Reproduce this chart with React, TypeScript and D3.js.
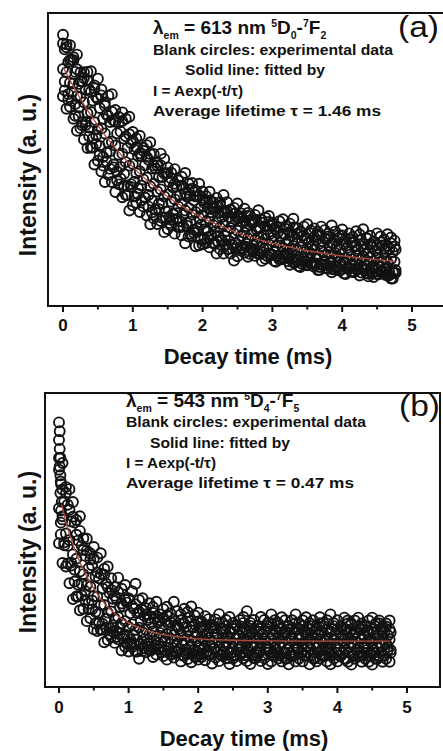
import React from 'react';
import * as d3 from 'd3';

// ---------- data ----------
const TIME = [0.00,0.05,0.10,0.15,0.20,0.25,0.30,0.35,0.40,0.45,0.50,0.55,0.60,0.65,0.70,0.75,0.80,0.85,0.90,0.95,1.00,1.05,1.10,1.15,1.20,1.25,1.30,1.35,1.40,1.45,1.50,1.55,1.60,1.65,1.70,1.75,1.80,1.85,1.90,1.95,2.00,2.05,2.10,2.15,2.20,2.25,2.30,2.35,2.40,2.45,2.50,2.55,2.60,2.65,2.70,2.75,2.80,2.85,2.90,2.95,3.00,3.05,3.10,3.15,3.20,3.25,3.30,3.35,3.40,3.45,3.50,3.55,3.60,3.65,3.70,3.75,3.80,3.85,3.90,3.95,4.00,4.05,4.10,4.15,4.20,4.25,4.30,4.35,4.40,4.45,4.50,4.55,4.60,4.65,4.70,4.75];
const TIME_MID = [0.025,0.075,0.125,0.175,0.225,0.275,0.325,0.375,0.425,0.475,0.525,0.575,0.625,0.675,0.725,0.775,0.825,0.875,0.925,0.975,1.025,1.075,1.125,1.175,1.225,1.275,1.325,1.375,1.425,1.475,1.525,1.575,1.625,1.675,1.725,1.775,1.825,1.875,1.925,1.975,2.025,2.075,2.125,2.175,2.225,2.275,2.325,2.375,2.425,2.475,2.525,2.575,2.625,2.675,2.725,2.775,2.825,2.875,2.925,2.975,3.025,3.075,3.125,3.175,3.225,3.275,3.325,3.375,3.425,3.475,3.525,3.575,3.625,3.675,3.725,3.775,3.825,3.875,3.925,3.975,4.025,4.075,4.125,4.175,4.225,4.275,4.325,4.375,4.425,4.475,4.525,4.575,4.625,4.675,4.725,4.765];

// Panel (a): 613 nm decay, intensity in a.u.
const A_R1 = [92.6,88.3,89.0,84.9,85.8,79.7,79.8,79.9,80.1,75.3,77.6,73.9,69.3,71.8,72.3,66.9,64.5,66.1,63.9,64.6,59.4,57.2,58.1,54.0,54.9,55.9,51.9,49.0,52.0,50.2,47.3,45.5,46.7,42.9,44.1,45.4,41.7,42.0,39.4,41.7,39.1,37.5,39.0,35.4,36.9,35.4,37.9,35.4,32.9,33.5,35.0,31.6,33.2,31.8,29.5,31.1,32.7,29.4,30.1,30.7,28.4,27.1,28.9,29.6,27.3,28.1,29.8,26.6,25.3,27.1,27.9,25.7,26.5,24.3,27.1,25.9,24.7,27.5,25.4,24.2,26.1,22.9,24.8,23.6,25.5,24.4,26.2,23.1,24.0,21.9,24.8,23.7,22.6,24.5,23.4,22.3];
const A_R6 = [89.6,89.3,84.0,83.9,80.8,76.7,77.8,76.9,73.1,74.3,70.6,71.9,68.3,64.8,66.3,62.9,62.5,63.1,57.9,58.6,56.4,54.2,52.1,53.0,50.9,51.9,47.9,48.0,48.0,45.2,45.3,43.5,41.7,42.9,41.1,38.4,39.7,40.0,37.4,37.7,36.1,35.5,36.0,33.4,33.9,34.4,31.9,32.4,32.9,31.5,30.0,30.6,29.2,30.8,28.5,29.1,26.7,28.4,27.1,28.7,27.4,26.1,26.9,24.6,26.3,25.1,26.8,24.6,25.3,24.1,22.9,24.7,23.5,25.3,24.1,22.9,23.7,21.5,22.4,23.2,24.1,21.9,22.8,21.6,20.5,22.4,21.2,23.1,21.0,21.9,20.8,21.7,19.6,20.5,21.4,20.3];
const A_R2 = [87.6,83.3,84.0,79.9,75.8,76.7,73.8,73.9,70.1,71.3,67.6,63.9,65.3,62.8,63.3,58.9,59.5,57.1,53.9,55.6,53.4,51.2,51.1,48.0,49.9,46.9,46.9,44.0,44.0,45.2,42.3,40.5,40.7,37.9,40.1,37.4,37.7,36.0,37.4,33.7,35.1,33.5,32.0,33.4,31.9,30.4,31.9,30.4,28.9,29.5,30.0,28.6,27.2,27.8,28.5,26.1,26.7,24.4,26.1,24.7,26.4,25.1,23.9,24.6,22.3,24.1,22.8,24.6,22.3,23.1,21.9,20.7,22.5,21.3,22.1,22.9,20.7,21.5,20.4,19.2,21.1,19.9,21.8,20.6,19.5,20.4,19.2,18.1,20.0,18.9,19.8,20.7,18.6,19.5,18.4,19.3];
const A_R3 = [80.9,79.8,76.2,75.9,71.6,71.3,69.5,65.8,66.2,62.7,60.4,60.6,58.9,55.7,56.1,54.8,51.6,52.0,49.1,47.9,48.5,45.3,46.0,43.2,43.8,40.8,41.7,39.1,39.8,37.4,38.1,35.6,36.4,34.0,35.0,32.6,33.5,31.2,32.1,30.1,31.0,28.7,29.8,27.6,28.6,26.7,27.8,25.6,26.6,24.8,25.7,23.9,25.0,23.1,24.2,22.5,23.4,21.8,22.9,21.1,22.2,20.5,21.6,19.9,21.0,19.4,20.5,18.9,20.0,18.4,19.6,18.0,19.2,17.6,18.8,17.3,18.4,16.9,18.1,16.6,17.8,16.3,17.5,16.0,17.2,15.8,16.9,15.5,16.7,15.3,16.4,15.0,16.2,14.9,16.0,15.1];
const A_R4 = [76.6,72.3,73.0,68.9,67.8,62.7,62.8,60.9,57.1,58.3,54.6,50.9,52.3,52.8,48.3,45.9,47.5,45.1,40.9,41.6,42.4,40.2,41.1,37.0,37.9,35.9,32.9,35.0,35.0,32.2,30.3,31.5,31.7,28.9,31.1,28.4,28.7,26.0,26.4,27.7,26.1,25.5,24.0,25.4,23.9,22.4,23.9,22.4,20.9,21.5,22.0,20.6,21.2,18.8,19.5,21.1,18.7,19.4,17.1,17.7,18.4,17.1,15.9,17.6,16.3,18.1,15.8,16.6,14.3,15.1,15.9,14.7,16.5,13.3,15.1,13.9,14.7,12.5,13.4,14.2,15.1,12.9,13.8,11.6,12.5,13.4,12.2,11.1,13.0,11.9,13.8,11.7,12.6,10.5,11.4,12.3];
const A_R7 = [73.6,70.3,70.0,64.9,64.8,61.7,61.8,57.9,54.1,55.3,51.6,47.9,49.3,46.8,47.3,42.9,43.5,41.1,37.9,40.6,37.4,38.2,36.1,37.0,33.9,31.9,32.9,33.0,30.0,30.2,28.3,29.5,29.7,26.9,27.1,27.4,24.7,25.0,25.4,22.7,23.1,23.5,24.0,21.4,21.9,22.4,20.9,19.4,20.9,19.5,19.0,19.6,20.2,17.8,18.5,19.1,17.7,19.4,17.1,17.7,15.4,17.1,15.9,17.6,15.3,16.1,14.8,13.6,15.3,14.1,15.9,13.7,14.5,12.3,14.1,12.9,14.7,12.5,13.4,12.2,11.1,12.9,11.8,13.6,12.5,11.4,12.2,10.1,11.0,12.9,10.8,11.7,10.6,11.5,9.4,11.3];
const A_R5 = [71.6,67.3,68.0,63.9,59.8,60.7,56.8,53.9,54.1,48.3,49.6,45.9,42.3,44.8,42.3,38.9,41.5,37.1,37.9,32.6,34.4,35.2,32.1,34.0,30.9,27.9,29.9,28.0,29.0,25.2,26.3,27.5,24.7,26.9,24.1,21.4,23.7,24.0,20.4,20.7,21.1,21.5,20.0,21.4,17.9,19.4,17.9,19.4,17.9,15.5,17.0,19.6,18.2,16.8,19.5,17.1,17.7,15.4,16.1,17.7,17.4,15.1,15.9,16.6,17.3,14.1,14.8,15.6,13.3,16.1,13.9,14.7,13.5,12.3,14.1,14.9,12.7,11.5,13.4,12.2,14.1,10.9,12.8,11.6,12.5,10.4,13.2,11.1,12.0,9.9,10.8,11.7,12.6,10.5,9.4,11.3];
const A_FIT_T = [0,0.25,0.5,0.75,1.0,1.25,1.5,1.75,2.0,2.25,2.5,2.75,3.0,3.25,3.5,3.75,4.0,4.25,4.5,4.75];
const A_FIT_V = [81.6,70.7,61.6,53.9,47.4,41.9,37.3,33.4,30.1,27.4,25.0,23.1,21.4,20.1,18.9,17.9,17.1,16.4,15.8,15.3];

// Panel (b): 543 nm decay
const B_R1 = [77.9,76.2,68.0,67.3,62.9,56.8,58.1,50.6,50.4,45.4,47.6,44.0,45.5,40.2,41.0,37.0,34.0,37.2,33.4,34.7,30.1,32.6,35.1,29.6,30.2,26.8,28.5,27.2,29.0,24.7,26.5,27.3,25.1,29.0,25.8,24.7,26.6,25.5,27.4,24.3,25.3,22.2,24.1,23.1,21.0,23.0,24.8,21.8,22.8,23.8,21.8,20.8,22.8,23.8,25.8,21.8,22.8,20.8,23.8,22.8,21.8,24.7,22.7,21.7,23.7,22.7,20.7,22.7,24.7,21.7,22.7,23.7,21.7,22.7,20.7,23.7,21.7,22.7,24.7,21.7,22.7,20.6,23.6,22.6,21.6,22.6,23.6,21.6,20.6,22.6,23.6,21.6,22.6,20.6,21.6,22.6];
const B_R6 = [73.9,67.2,66.0,60.3,57.9,51.8,53.1,46.6,46.4,43.4,43.6,39.0,38.5,38.2,34.0,33.0,31.0,32.2,28.4,29.7,30.1,27.6,28.1,25.6,26.2,24.8,23.5,25.2,24.0,22.7,23.5,24.3,22.1,23.0,20.8,22.7,21.6,23.5,22.4,21.3,22.3,20.2,21.1,19.1,21.0,20.0,21.8,19.8,20.8,18.8,19.8,20.8,19.8,21.8,18.8,20.8,19.8,20.8,19.8,18.8,20.8,21.7,19.7,20.7,19.7,18.7,20.7,19.7,21.7,19.7,20.7,18.7,19.7,20.7,19.7,21.7,20.7,19.7,18.7,20.7,19.7,20.6,19.6,21.6,19.6,18.6,20.6,19.6,20.6,18.6,19.6,20.6,21.6,19.6,20.6,19.6];
const B_R2 = [69.9,63.2,62.0,56.3,55.9,49.8,48.1,44.6,40.4,41.4,37.6,37.0,33.5,35.2,32.0,30.0,30.0,27.2,27.4,28.7,25.1,26.6,25.1,22.6,24.2,22.8,21.5,23.2,22.0,20.7,22.5,21.3,19.1,21.0,19.8,21.7,20.6,19.5,20.4,18.3,20.3,19.2,18.1,20.1,19.0,18.0,19.8,18.8,16.8,18.8,19.8,17.8,18.8,19.8,17.8,18.8,16.8,18.8,17.8,19.8,18.8,17.7,18.7,19.7,17.7,18.7,16.7,18.7,19.7,17.7,18.7,17.7,19.7,18.7,17.7,18.7,16.7,18.7,19.7,17.7,18.7,17.6,19.6,18.6,17.6,18.6,19.6,17.6,18.6,16.6,18.6,17.6,19.6,18.6,17.6,18.6];
const B_R3 = [60.8,58.1,52.2,50.0,45.1,43.6,39.3,38.4,34.7,34.1,30.9,30.8,27.9,27.9,25.3,25.7,23.4,23.8,21.7,22.4,20.4,21.3,19.5,20.2,18.6,19.5,17.9,18.9,17.3,18.4,16.9,18.0,16.5,17.7,16.2,17.4,16.0,17.2,15.8,17.0,15.6,16.9,15.5,16.8,15.3,16.7,15.1,16.5,15.0,16.4,15.1,16.5,15.0,16.4,15.2,16.6,14.9,16.3,15.1,16.5,15.0,16.4,14.9,16.3,15.1,16.5,14.9,16.2,15.0,16.4,14.8,16.3,15.1,16.5,14.9,16.2,15.0,16.4,14.8,16.3,15.0,16.4,14.9,16.2,14.8,16.3,15.0,16.4,14.9,16.2,14.8,16.3,15.0,16.1,14.9,16.2];
const B_R4 = [55.9,49.2,48.0,42.3,39.9,34.8,35.1,32.6,28.4,29.4,25.6,25.0,21.5,23.2,20.0,21.0,19.0,20.2,17.4,17.7,15.1,17.6,16.1,14.6,16.2,14.8,15.5,13.2,15.0,13.7,15.5,13.3,12.1,14.0,12.8,14.7,12.6,13.5,11.4,12.3,13.3,13.2,12.1,14.1,13.0,12.0,12.8,13.8,11.8,12.8,10.8,12.8,13.8,11.8,12.8,13.8,11.8,12.8,10.8,13.8,12.8,11.7,12.7,13.7,11.7,12.7,10.7,12.7,13.7,11.7,12.7,13.7,12.7,11.7,13.7,12.7,10.7,12.7,11.7,13.7,12.7,11.6,12.6,13.6,11.6,12.6,10.6,13.6,12.6,11.6,12.6,13.6,11.6,12.6,13.6,12.6];
const B_R7 = [51.9,48.2,42.0,41.3,35.9,30.8,31.1,29.6,26.4,26.4,21.6,22.0,19.5,20.2,18.0,19.0,17.0,18.2,16.4,14.7,16.1,14.6,12.1,14.6,13.2,13.8,12.5,14.2,13.0,11.7,12.5,13.3,11.1,12.0,12.8,10.7,11.6,11.5,12.4,10.3,11.3,11.2,12.1,11.1,13.0,12.0,10.8,11.8,9.8,11.8,10.8,12.8,11.8,10.8,11.8,10.8,9.8,11.8,10.8,12.8,11.8,10.7,11.7,10.7,11.7,9.7,11.7,10.7,12.7,11.7,10.7,11.7,10.7,9.7,11.7,10.7,12.7,11.7,10.7,11.7,10.7,11.6,9.6,11.6,10.6,12.6,11.6,10.6,11.6,10.6,11.6,9.6,11.6,10.6,12.6,11.6];
const B_R5 = [48.9,42.2,41.0,35.3,29.9,30.8,26.1,26.6,22.4,23.4,19.6,19.0,19.5,15.2,16.0,17.0,15.0,16.2,12.4,13.7,12.1,13.6,12.1,9.6,12.2,11.8,12.5,10.2,11.0,12.7,10.5,9.3,11.1,10.0,11.8,8.7,10.6,9.5,8.4,10.3,9.3,10.2,9.1,11.1,8.0,10.0,8.8,10.8,9.8,7.8,9.8,8.8,10.8,9.8,8.8,7.8,9.8,10.8,8.8,9.8,7.8,8.7,10.7,9.7,8.7,9.7,7.7,10.7,8.7,9.7,8.7,10.7,7.7,9.7,8.7,9.7,10.7,8.7,7.7,9.7,8.7,10.6,9.6,8.6,7.6,9.6,10.6,8.6,9.6,8.6,7.6,9.6,10.6,8.6,9.6,8.6];
const B_EARLY_T = [0.00,0.01,0.00,0.01,0.02,0.01,0.02,0.03,0.02,0.04,0.03,0.05];
const B_EARLY_V = [90,87,84,81,78,75,72,69,66,63,60,57];
const B_FIT_T = [0.04,0.1,0.2,0.3,0.4,0.5,0.6,0.8,1.0,1.25,1.5,2.0,2.5,3.0,3.5,4.0,4.5,4.75];
const B_FIT_V = [62.0,56.0,48.5,42.5,37.5,33.5,30.0,25.0,21.8,19.3,17.8,16.4,15.9,15.7,15.6,15.6,15.6,15.6];

const X_TICKS = [0, 1, 2, 3, 4, 5];
const X_MINOR = [0.5, 1.5, 2.5, 3.5, 4.5];

const FONT = '"Liberation Sans", Arial, Helvetica, sans-serif';
const INK = '#111';

type Series = { times: number[]; values: number[] };

type PanelProps = {
  frame: { left: number; top: number; right: number; bottom: number };
  xRange: [number, number];
  series: Series[];
  fitT: number[];
  fitV: number[];
  tickBaseline: number;
  titleBaseline: number;
  titleX: number;
  yTitleCenter: number;
  ann: {
    x: number; y: number; solidX: number; pitch: number;
    nm: string; d: string; f: string; life: string; tag: string; tagX: number; tagY: number;
  };
};

function Panel(p: PanelProps) {
  const { frame } = p;
  const x = d3.scaleLinear().domain([0, 5]).range(p.xRange);
  const y = d3.scaleLinear().domain([0, 100]).range([frame.bottom, frame.top]);
  const pts: { t: number; v: number }[] = [];
  p.series.forEach((s) => s.values.forEach((v, i) => pts.push({ t: s.times[i], v })));
  const line = d3
    .line<number>()
    .x((_, i) => x(p.fitT[i]))
    .y((v) => y(v))
    .curve(d3.curveMonotoneX);
  const a = p.ann;
  const sub = 5;
  const sup = 7;
  return (
    <g>
      <g fill="none" stroke="#121212" strokeWidth={1.9}>
        {pts.map((d, i) => (
          <circle key={i} cx={x(d.t)} cy={y(d.v)} r={5} />
        ))}
      </g>
      <path d={line(p.fitV) || ''} fill="none" stroke="#b04a3c" strokeWidth={1.3} />
      <rect
        x={frame.left}
        y={frame.top}
        width={frame.right - frame.left}
        height={frame.bottom - frame.top}
        fill="none"
        stroke={INK}
        strokeWidth={2}
      />
      {X_TICKS.map((t) => (
        <line key={'M' + t} x1={x(t)} x2={x(t)} y1={frame.bottom} y2={frame.bottom + 6} stroke={INK} strokeWidth={2} />
      ))}
      {X_MINOR.map((t) => (
        <line key={'m' + t} x1={x(t)} x2={x(t)} y1={frame.bottom} y2={frame.bottom + 3.5} stroke={INK} strokeWidth={2} />
      ))}
      {X_TICKS.map((t) => (
        <text key={'l' + t} x={x(t)} y={p.tickBaseline} textAnchor="middle" fontFamily={FONT} fontWeight="bold" fontSize={17} fill={INK}>
          {t}
        </text>
      ))}
      <text x={p.titleX} y={p.titleBaseline} textAnchor="middle" fontFamily={FONT} fontWeight="bold" fontSize={22} fill={INK}>
        Decay time (ms)
      </text>
      <text
        transform={`translate(36,${p.yTitleCenter}) rotate(-90)`}
        textAnchor="middle"
        fontFamily={FONT}
        fontWeight="bold"
        fontSize={23}
        fill={INK}
      >
        Intensity (a. u.)
      </text>
      <g fontFamily={FONT} fontWeight="bold" fill={INK} fontSize={15.5} style={{ whiteSpace: 'pre' }}>
        <text x={a.x} y={a.y} fontSize={19}>
          <tspan>λ</tspan>
          <tspan fontSize={10.5} dy={sub}>em</tspan>
          <tspan dy={-sub}>{` = ${a.nm} nm `}</tspan>
          <tspan fontSize={10.5} dy={-sup}>5</tspan>
          <tspan dy={sup}>D</tspan>
          <tspan fontSize={10.5} dy={sub}>{a.d}</tspan>
          <tspan dy={-sub}>-</tspan>
          <tspan fontSize={10.5} dy={-sup}>7</tspan>
          <tspan dy={sup}>F</tspan>
          <tspan fontSize={10.5} dy={sub}>{a.f}</tspan>
        </text>
        <text x={a.x} y={a.y + a.pitch} textLength={240} lengthAdjust="spacingAndGlyphs">Blank circles: experimental data</text>
        <text x={a.solidX} y={a.y + 2 * a.pitch} textLength={140} lengthAdjust="spacingAndGlyphs">Solid line: fitted by</text>
        <text x={a.x} y={a.y + 3 * a.pitch} textLength={90} lengthAdjust="spacingAndGlyphs">I = Aexp(-t/τ)</text>
        <text x={a.x} y={a.y + 4 * a.pitch} textLength={228} lengthAdjust="spacingAndGlyphs">{`Average lifetime τ  = ${a.life} ms`}</text>
      </g>
      <text x={a.tagX} y={a.tagY} fontFamily={FONT} fontSize={30} fill={INK} textLength={41} lengthAdjust="spacingAndGlyphs">
        {a.tag}
      </text>
    </g>
  );
}

export default function App() {
  return (
    <svg
      width={443}
      height={751}
      viewBox="0 0 443 751"
      style={{ position: 'absolute', left: 0, top: 0, background: '#fff' }}
    >
      <rect x={0} y={0} width={443} height={751} fill="#fff" />
      <Panel
        frame={{ left: 48, top: 13, right: 446, bottom: 306 }}
        xRange={[63, 412]}
        series={[
          { times: TIME, values: A_R1 },
          { times: TIME, values: A_R6 },
          { times: TIME_MID, values: A_R2 },
          { times: TIME, values: A_R3 },
          { times: TIME_MID, values: A_R4 },
          { times: TIME_MID, values: A_R7 },
          { times: TIME, values: A_R5 },
        ]}
        fitT={A_FIT_T}
        fitV={A_FIT_V}
        tickBaseline={331}
        titleBaseline={364}
        titleX={248}
        yTitleCenter={175}
        ann={{ x: 153, y: 34, solidX: 185, pitch: 20.6, nm: '613', d: '0', f: '2', life: '1.46', tag: '(a)', tagX: 398, tagY: 37 }}
      />
      <Panel
        frame={{ left: 45, top: 393, right: 440, bottom: 687 }}
        xRange={[59, 407]}
        series={[
          { times: TIME, values: B_R1 },
          { times: TIME, values: B_R6 },
          { times: TIME_MID, values: B_R2 },
          { times: TIME, values: B_R3 },
          { times: TIME_MID, values: B_R4 },
          { times: TIME_MID, values: B_R7 },
          { times: TIME, values: B_R5 },
          { times: B_EARLY_T, values: B_EARLY_V },
        ]}
        fitT={B_FIT_T}
        fitV={B_FIT_V}
        tickBaseline={713}
        titleBaseline={746}
        titleX={244}
        yTitleCenter={552}
        ann={{ x: 126, y: 407, solidX: 150, pitch: 20.3, nm: '543', d: '4', f: '5', life: '0.47', tag: '(b)', tagX: 399, tagY: 416 }}
      />
    </svg>
  );
}
